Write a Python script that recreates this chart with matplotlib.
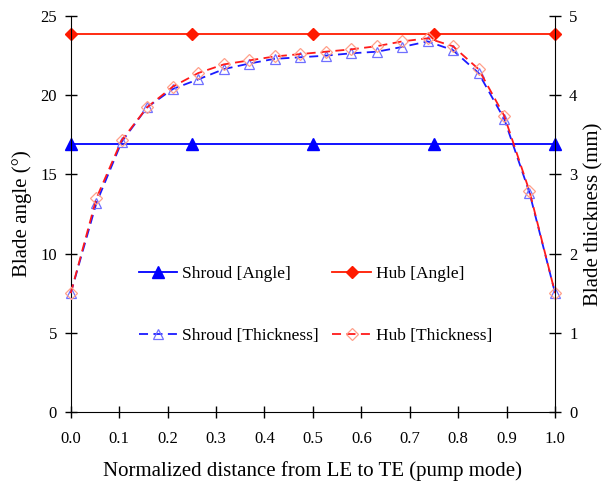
import matplotlib
matplotlib.use("Agg")
from matplotlib import pyplot as plt
import numpy as np

plt.rcParams['font.family'] = ['Liberation Serif', 'DejaVu Serif']

# angle series (left axis)
x_angle = [0.0, 0.25, 0.5, 0.75, 1.0]
shroud_angle = [16.9, 16.9, 16.9, 16.9, 16.9]
hub_angle = [23.9, 23.9, 23.9, 23.9, 23.9]

# thickness series (right axis)
x_thick = [0.0, 0.053, 0.105, 0.158, 0.211, 0.263, 0.316, 0.368, 0.421, 0.474,
           0.526, 0.579, 0.632, 0.684, 0.737, 0.789, 0.842, 0.895, 0.947, 1.0]
shroud_thick = [1.50, 2.64, 3.41, 3.85, 4.08, 4.20, 4.33, 4.40, 4.46, 4.48,
                4.50, 4.53, 4.55, 4.61, 4.68, 4.57, 4.28, 3.70, 2.77, 1.50]
hub_thick = [1.50, 2.70, 3.43, 3.85, 4.11, 4.28, 4.39, 4.44, 4.49, 4.52,
             4.55, 4.58, 4.62, 4.68, 4.72, 4.62, 4.33, 3.74, 2.79, 1.50]

fig = plt.figure(figsize=(6.1, 4.88), dpi=100)
ax = fig.add_axes([0.116, 0.156, 0.794, 0.811])
ax2 = ax.twinx()

#angle lines
l1, = ax.plot(x_angle, shroud_angle, color='#0000ff', lw=1.3, marker='^',
              ms=8, clip_on=False, label='Shroud [Angle]')
l2, = ax.plot(x_angle, hub_angle, color='#ff1a00', lw=1.3, marker='D',
              ms=6.5, clip_on=False, label='Hub [Angle]')

#thickness lines
l3, = ax2.plot(x_thick, shroud_thick, color='#1a1aff', lw=1.3, ls=(0, (5, 3)),
               marker='^', ms=7.5, mfc='none', mec='#7070ff', mew=0.9,
               clip_on=False, label='Shroud [Thickness]')
l4, = ax2.plot(x_thick, hub_thick, color='#ff1a1a', lw=1.3, ls=(0, (5, 3)),
               marker='D', ms=6.5, mfc='none', mec='#ffa08a', mew=0.9,
               clip_on=False, label='Hub [Thickness]')

ax.set_xlim(0, 1.0)
ax.set_ylim(0, 25)
ax2.set_ylim(0, 5)
ax.set_xticks(np.arange(0, 1.01, 0.1))
ax.set_xticklabels(['%.1f' % v for v in np.arange(0, 1.01, 0.1)])
ax.set_yticks(range(0, 26, 5))
ax2.set_yticks(range(0, 6))

for a in (ax, ax2):
    a.tick_params(direction='inout', length=8, width=1, labelsize=12, pad=6)
    a.spines['top'].set_visible(False)
ax.tick_params(axis='x', pad=10)
ax.spines['right'].set_visible(False)
ax2.spines['left'].set_visible(False)
ax2.spines['bottom'].set_visible(False)

ax.set_xlabel('Normalized distance from LE to TE (pump mode)', fontsize=15, labelpad=10)
ax.set_ylabel('Blade angle (°)', fontsize=15, labelpad=6)
ax2.set_ylabel('Blade thickness (mm)', fontsize=15, labelpad=5)

ax2.legend([l1, l3, l2, l4], [l.get_label() for l in (l1, l3, l2, l4)],
           ncol=2, frameon=False, fontsize=12.5, handlelength=2.2,
           labelspacing=2.6, columnspacing=0.8, handletextpad=0.3,
           loc='center', bbox_to_anchor=(0.505, 0.27))

fig.savefig('out.png', dpi=100)
